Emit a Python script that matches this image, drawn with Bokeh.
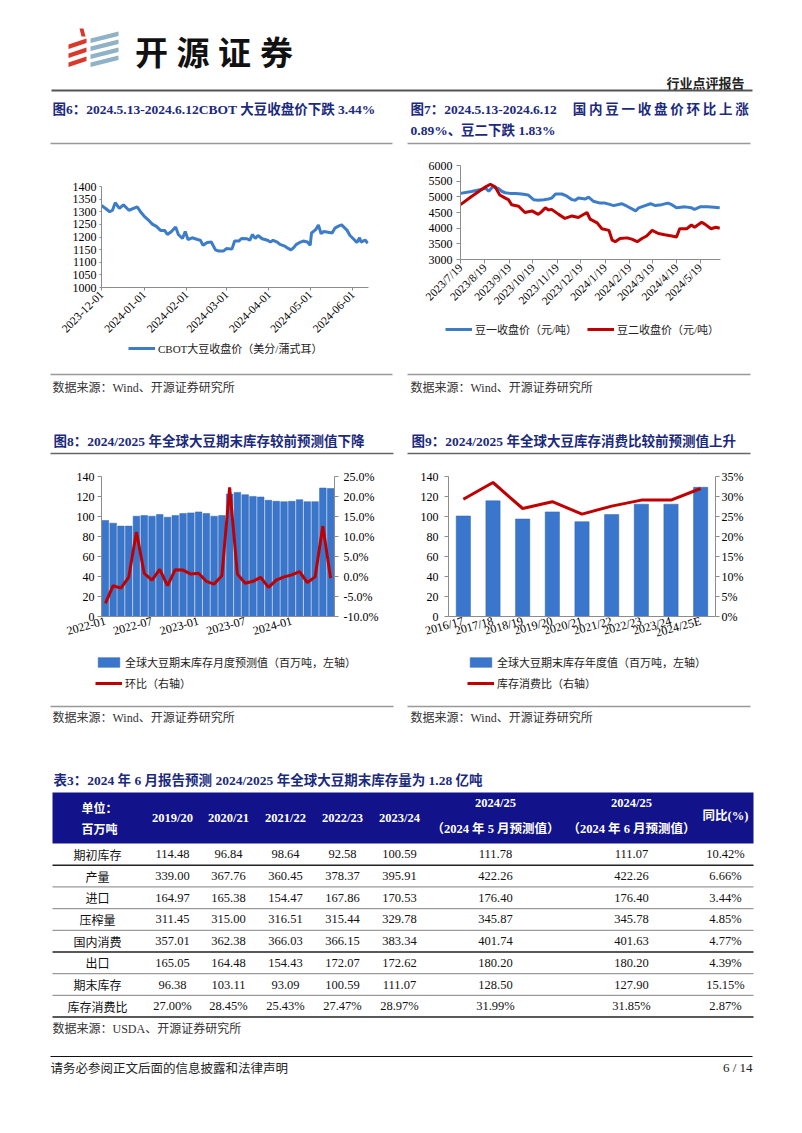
import math
import pandas as pd
from bokeh.plotting import figure
from bokeh.models import (Range1d, FixedTicker, Legend, LegendItem, LinearAxis,
                          PrintfTickFormatter, FactorRange)
from bokeh.layouts import column, row
from bokeh.embed import file_html
from bokeh.resources import INLINE
from bokeh.core.properties import value

# ---------------- data ----------------
# Fig 6: CBOT soybean close (US cents / bushel)
cbot_dates = ["2023-12-01","2023-12-04","2023-12-07","2023-12-09","2023-12-11","2023-12-14","2023-12-17","2023-12-21","2023-12-27","2023-12-30",
              "2024-01-01","2024-01-04","2024-01-07","2024-01-10","2024-01-13","2024-01-16","2024-01-18","2024-01-21","2024-01-24","2024-01-26","2024-01-29","2024-01-31",
              "2024-02-02","2024-02-05","2024-02-09","2024-02-11","2024-02-13","2024-02-16","2024-02-19","2024-02-22","2024-02-24","2024-02-28",
              "2024-03-01","2024-03-05","2024-03-07","2024-03-10","2024-03-12","2024-03-16","2024-03-18","2024-03-20","2024-03-22","2024-03-24","2024-03-27","2024-03-31",
              "2024-04-02","2024-04-04","2024-04-07","2024-04-09","2024-04-12","2024-04-14","2024-04-17","2024-04-19","2024-04-21","2024-04-24","2024-04-26","2024-04-29",
              "2024-05-01","2024-05-02","2024-05-05","2024-05-07","2024-05-09","2024-05-11","2024-05-14","2024-05-17","2024-05-19","2024-05-22","2024-05-24","2024-05-25","2024-05-28","2024-05-30",
              "2024-06-02","2024-06-04","2024-06-06","2024-06-07","2024-06-10","2024-06-12"]
cbot_close = [1325,1313,1300,1306,1336,1313,1327,1306,1319,1296,
              1283,1268,1251,1242,1226,1226,1210,1222,1240,1210,1194,1222,
              1190,1197,1190,1187,1167,1178,1180,1149,1145,1145,
              1154,1152,1184,1184,1194,1193,1187,1210,1194,1206,1193,1187,
              1180,1187,1180,1171,1165,1158,1149,1158,1171,1180,1184,1180,
              1167,1216,1229,1248,1213,1222,1219,1216,1235,1244,1248,1242,1226,1206,
              1190,1178,1197,1180,1188,1175]
cbot_ticks = ["2023-12-01","2024-01-01","2024-02-01","2024-03-01","2024-04-01","2024-05-01","2024-06-01"]

# Fig 7: Dalian soybean No.1 / No.2 close (yuan / ton)
dou1_dates = ["2023-07-19","2023-08-02","2023-08-20","2023-08-24","2023-08-29","2023-09-05","2023-09-10","2023-09-14","2023-09-20","2023-09-27",
              "2023-10-05","2023-10-13","2023-10-20","2023-10-26","2023-11-02","2023-11-08","2023-11-12","2023-11-17","2023-11-25",
              "2023-12-01","2023-12-08","2023-12-12","2023-12-16","2023-12-25","2023-12-29","2024-01-04","2024-01-13","2024-01-19","2024-01-26","2024-01-30",
              "2024-02-09","2024-02-16","2024-02-27","2024-03-02","2024-03-10","2024-03-17","2024-03-23","2024-03-31",
              "2024-04-08","2024-04-13","2024-04-19","2024-04-30","2024-05-08","2024-05-12","2024-05-19","2024-05-29","2024-06-13"]
dou1_close = [5110,5170,5270,5180,5320,5270,5170,5130,5110,5110,
              5090,5060,4910,4890,4910,4930,4960,5090,5090,
              5030,4910,4890,4960,4930,4990,4860,4800,4800,4750,4720,
              4780,4700,4550,4650,4720,4780,4720,4750,
              4800,4750,4650,4680,4650,4600,4680,4680,4650]
dou2_dates = ["2023-07-19","2023-08-02","2023-08-20","2023-08-26","2023-09-01","2023-09-07","2023-09-14","2023-09-18","2023-09-22",
              "2023-10-01","2023-10-09","2023-10-18","2023-10-26","2023-10-30","2023-11-04","2023-11-08","2023-11-12","2023-11-21","2023-11-29",
              "2023-12-08","2023-12-16","2023-12-27","2023-12-31","2024-01-09","2024-01-15","2024-01-24","2024-01-28",
              "2024-02-01","2024-02-07","2024-02-16","2024-02-22","2024-02-29","2024-03-06","2024-03-12","2024-03-19","2024-03-27",
              "2024-04-04","2024-04-13","2024-04-19","2024-04-23","2024-05-02","2024-05-08","2024-05-12","2024-05-21","2024-05-25",
              "2024-06-02","2024-06-08","2024-06-13"]
dou2_close = [4750,5010,5320,5400,5320,5060,4960,4910,4750,
              4700,4500,4550,4440,4520,4650,4580,4600,4440,4310,
              4390,4340,4500,4290,4170,3980,3930,3620,
              3570,3670,3690,3650,3570,3670,3750,3930,3830,
              3790,3750,3720,3980,3980,4100,4030,4190,4130,
              3980,4030,4000]
dou_ticks = ["2023/7/19","2023/8/19","2023/9/19","2023/10/19","2023/11/19","2023/12/19",
             "2024/1/19","2024/2/19","2024/3/19","2024/4/19","2024/5/19"]

# Fig 8: monthly forecasts of world soybean ending stocks (Mt) and m/m change (%)
stock_months = [p.strftime("%Y-%m") for p in pd.period_range("2022-01", periods=30, freq="M")]
stock_monthly = [96.0,93.3,90.4,90.4,100.3,100.9,100.3,101.9,99.3,100.9,102.9,103.6,104.6,102.9,100.3,
                 100.9,122.5,124.1,121.8,120.1,119.5,116.2,115.2,114.8,115.2,116.8,114.8,114.8,128.5,127.9]
stock_mom = [-6.7,-2.3,-2.9,-0.2,11.1,0.8,-0.9,1.8,-2.3,1.7,1.6,0.6,0.8,-1.2,-1.9,
             0.2,22.3,0.6,-1.7,-1.2,-0.2,-2.7,-0.9,-0.1,0.4,1.2,-1.5,-0.1,12.6,-0.4]
stock_month_ticks = ["2022-01","2022-07","2023-01","2023-07","2024-01"]

# Fig 9: annual ending stocks (Mt) and stocks-to-use ratio (%)
seasons = ["2016/17","2017/18","2018/19","2019/20","2020/21","2021/22","2022/23","2023/24","2024/25E"]
stock_annual = [100.5,115.7,97.5,104.6,94.8,101.9,112.3,112.3,129.2]
stock_use_ratio = [29.3,33.5,27.0,28.7,25.6,27.6,29.1,29.1,32.0]

# Table 3
tbl_rows = ["期初库存","产量","进口","压榨量","国内消费","出口","期末库存","库存消费比"]
tbl_years = ["2019/20","2020/21","2021/22","2022/23","2023/24"]
v_1920 = [114.48,339.00,164.97,311.45,357.01,165.05,96.38,27.00]
v_2021 = [96.84,367.76,165.38,315.00,362.38,164.48,103.11,28.45]
v_2122 = [98.64,360.45,154.47,316.51,366.03,154.43,93.09,25.43]
v_2223 = [92.58,378.37,167.86,315.44,366.15,172.07,100.59,27.47]
v_2324 = [100.59,395.91,170.53,329.78,383.34,172.62,111.07,28.97]
v_2425_may = [111.78,422.26,176.40,345.87,401.74,180.20,128.50,31.99]
v_2425_jun = [111.07,422.26,176.40,345.78,401.63,180.20,127.90,31.85]
v_yoy = [10.42,6.66,3.44,4.85,4.77,4.39,15.15,2.87]

# ---------------- styles ----------------
SERIF = "Liberation Serif"
MIX = "Liberation Serif, Noto Sans CJK SC"
CJK = "Noto Sans CJK SC"
NAVY = "#1B2A7E"
BLUE = "#3D7CC9"
BAR = "#3A77CC"
BAR_EDGE = "#2F63B0"
RED = "#C00000"
AXIS = "#8C8C8C"
HEAD_BG = "#12128A"
NAN = [float("nan")]  # legend-only renderers carry no visible data


def no_align(p):
    if "frame_align" in p.properties():
        p.frame_align = False
    return p


def canvas(y_top, y_bottom, x0=0, x1=802):
    p = figure(width=x1 - x0, height=y_bottom - y_top, x_range=Range1d(x0, x1),
               y_range=Range1d(y_bottom, y_top), x_axis_location=None, y_axis_location=None,
               min_border=0, output_backend="svg", toolbar_location=None)
    p.grid.visible = False
    p.outline_line_color = None
    return no_align(p)


def put(p, xs, ys, texts, size, color="#000", font=MIX, align="left", bold=False):
    p.text(x=list(xs), y=list(ys), text=list(texts), text_font=value(font),
           text_font_size=value(f"{size}px"), text_color=color, text_align=align,
           text_baseline="middle", text_font_style="bold" if bold else "normal")


def hline(p, x0s, x1s, ys, color, width):
    p.segment(x0=list(x0s), y0=list(ys), x1=list(x1s), y1=list(ys),
              line_color=color, line_width=width)


def chart(width, height, left, right, top, bottom, **kw):
    p = figure(width=width, height=height, min_border_left=left, min_border_right=right,
               min_border_top=top, min_border_bottom=bottom, output_backend="svg",
               toolbar_location=None, **kw)
    p.grid.visible = False
    p.outline_line_color = None
    return no_align(p)


def style(ax, tick_out=4, standoff=3, ticks=True, size="12px"):
    ax.axis_line_color = AXIS
    ax.major_tick_line_color = AXIS if ticks else None
    ax.minor_tick_line_color = None
    ax.major_tick_out = tick_out
    ax.major_tick_in = 0
    ax.major_label_text_font = SERIF
    ax.major_label_text_font_size = size
    ax.major_label_text_color = "#000"
    ax.major_label_standoff = standoff


def legend(p, items, loc, spacing=5):
    lg = Legend(items=[LegendItem(label=l, renderers=[r]) for l, r in items], location=loc,
                orientation="vertical", glyph_width=27, glyph_height=12, label_height=12,
                label_standoff=3, padding=0, margin=0, spacing=spacing,
                border_line_alpha=0, background_fill_alpha=0,
                label_text_font=MIX, label_text_font_size="11px", label_text_color="#222")
    p.add_layout(lg)


def day_offsets(dates, start):
    t0 = pd.Timestamp(start)
    return [(pd.Timestamp(d) - t0).days for d in dates]

# ---------------- header ----------------
H = canvas(0, 150)
red_xs = [[68, 86, 86, 68], [68, 86, 86, 68], [68, 86, 86, 68], [79, 83, 85, 81]]
red_ys = [[44, 38, 42.5, 48.5], [53, 47, 51.5, 57.5], [62, 56, 60.5, 66.5], [28, 28, 36, 36]]
H.patches(xs=red_xs, ys=red_ys, fill_color="#D9392B", line_color=None)
blue_xs = [[90, 118, 118, 90]] * 4
blue_ys = [[38, 31, 35.5, 42.5], [46, 39, 43.5, 50.5], [54, 47, 51.5, 58.5], [62, 55, 59.5, 66.5]]
H.patches(xs=blue_xs, ys=blue_ys, fill_color="#8FB2C6", line_color=None)
put(H, [151, 192.5, 234, 276], [50] * 4, list("开源证券"), 33, "#111", CJK, "center", True)
put(H, [744], [82], ["行业点评报告"], 13, "#222", CJK, "right", True)
hline(H, [51], [752], [90], "#555", 2)
put(H, [52], [109], ["图6：2024.5.13-2024.6.12CBOT 大豆收盘价下跌 3.44%"], 13.5, NAVY, MIX, "left", True)
put(H, [410], [109], ["图7：2024.5.13-2024.6.12"], 13.5, NAVY, MIX, "left", True)
t7 = list("国内豆一收盘价环比上涨")
put(H, [579 + i * 16.25 for i in range(len(t7))], [109] * len(t7), t7, 13.5, NAVY, MIX, "center", True)
put(H, [410], [129.5], ["0.89%、豆二下跌 1.83%"], 13.5, NAVY, MIX, "left", True)
hline(H, [50, 407], [392, 750], [143, 143], "#999", 1.5)

# ---------------- Fig 6 ----------------
x6 = day_offsets(cbot_dates, cbot_ticks[0])
tk6 = day_offsets(cbot_ticks, cbot_ticks[0])
p6 = chart(401, 189, 101, 33, 36, 50, x_range=Range1d(0, 194.5), y_range=Range1d(1000, 1400))
p6.line(x6, cbot_close, line_width=3, line_color=BLUE)
style(p6.xaxis[0], 3, 2, size="11.5px")
style(p6.yaxis[0], 2, 3)
p6.xaxis.ticker = FixedTicker(ticks=tk6)
p6.xaxis.major_label_overrides = dict(zip(tk6, cbot_ticks))
p6.xaxis.major_label_orientation = math.pi / 4
p6.yaxis.ticker = FixedTicker(ticks=list(range(1000, 1401, 50)))

L6 = canvas(339, 360, 0, 401)
l6 = L6.line(x=NAN, y=NAN, line_width=3, line_color=BLUE)
legend(L6, [("CBOT大豆收盘价（美分/蒲式耳）", l6)], (128, 4))

# ---------------- Fig 7 ----------------
x7a = day_offsets(dou1_dates, dou_ticks[0])
x7b = day_offsets(dou2_dates, dou_ticks[0])
tk7 = day_offsets(dou_ticks, dou_ticks[0])
p7 = chart(401, 164, 59, 82, 15, 52, x_range=Range1d(0, 331), y_range=Range1d(3000, 6000))
p7.line(x7a, dou1_close, line_width=3, line_color=BLUE)
p7.line(x7b, dou2_close, line_width=3, line_color=RED)
style(p7.xaxis[0], 4, 2, size="11.5px")
style(p7.yaxis[0], 4, 4)
p7.xaxis.ticker = FixedTicker(ticks=tk7)
p7.xaxis.major_label_overrides = dict(zip(tk7, dou_ticks))
p7.xaxis.major_label_orientation = math.pi / 4
p7.yaxis.ticker = FixedTicker(ticks=list(range(3000, 6001, 500)))

L7 = canvas(314, 360, 401, 802)
l7a = L7.line(x=NAN, y=NAN, line_width=3, line_color=BLUE)
l7b = L7.line(x=NAN, y=NAN, line_width=3, line_color=RED)
legend(L7, [("豆一收盘价（元/吨）", l7a)], (44, 23))
legend(L7, [("豆二收盘价（元/吨）", l7b)], (186, 23))

# ---------------- middle block ----------------
S1 = canvas(360, 460)
hline(S1, [50, 407], [392, 750], [374, 374], "#999", 1.5)
put(S1, [52, 410], [387, 387], ["数据来源：Wind、开源证券研究所"] * 2, 12, "#333", MIX)
put(S1, [53], [441], ["图8：2024/2025 年全球大豆期末库存较前预测值下降"], 13.5, NAVY, MIX, "left", True)
put(S1, [411], [441], ["图9：2024/2025 年全球大豆库存消费比较前预测值上升"], 13.5, NAVY, MIX, "left", True)
hline(S1, [50, 407], [393, 750], [453, 453], "#666", 1.5)

# ---------------- Fig 8 ----------------
idx8 = list(range(len(stock_months)))
tk8 = [stock_months.index(m) for m in stock_month_ticks]
p8 = chart(401, 190, 101, 67, 16, 34, x_range=Range1d(-0.5, len(idx8) - 0.5), y_range=Range1d(0, 140))
p8.extra_y_ranges = {"pct": Range1d(-10, 25)}
p8.vbar(x=idx8, top=stock_monthly, width=0.85, fill_color=BAR, line_color=BAR_EDGE, line_width=0.5)
p8.line(idx8, stock_mom, y_range_name="pct", line_width=3, line_color=RED)
ax8r = LinearAxis(y_range_name="pct", ticker=FixedTicker(ticks=list(range(-10, 26, 5))),
                  formatter=PrintfTickFormatter(format="%.1f%%"))
p8.add_layout(ax8r, "right")
style(p8.xaxis[0], 0, 4, ticks=False)
style(p8.yaxis[0], 4, 3)
style(ax8r, 4, 5)
p8.xaxis.ticker = FixedTicker(ticks=tk8)
p8.xaxis.major_label_overrides = dict(zip(tk8, stock_month_ticks))
p8.xaxis.major_label_orientation = 0.27
p8.yaxis[0].ticker = FixedTicker(ticks=list(range(0, 141, 20)))

# ---------------- Fig 9 ----------------
p9 = chart(401, 190, 47, 87, 16, 34, x_range=FactorRange(factors=seasons), y_range=Range1d(0, 140))
p9.extra_y_ranges = {"pct": Range1d(0, 35)}
p9.vbar(x=seasons, top=stock_annual, width=0.48, fill_color=BAR, line_color=BAR_EDGE, line_width=0.5)
p9.line(seasons, stock_use_ratio, y_range_name="pct", line_width=3, line_color=RED)
ax9r = LinearAxis(y_range_name="pct", ticker=FixedTicker(ticks=list(range(0, 36, 5))),
                  formatter=PrintfTickFormatter(format="%d%%"))
p9.add_layout(ax9r, "right")
style(p9.xaxis[0], 0, 4, ticks=False)
style(p9.yaxis[0], 4, 6)
style(ax9r, 4, 2)
p9.xaxis.major_label_orientation = 0.27
p9.yaxis[0].ticker = FixedTicker(ticks=list(range(0, 141, 20)))

# legends of fig 8 / fig 9
L89 = canvas(650, 700)
lb8 = L89.vbar(x=NAN, top=NAN, width=1, fill_color=BAR, line_color=BAR_EDGE, line_width=0.5)
ll8 = L89.line(x=NAN, y=NAN, line_width=3, line_color=RED)
legend(L89, [("全球大豆期末库存月度预测值（百万吨，左轴）", lb8), ("环比（右轴）", ll8)], (95, 9))
legend(L89, [("全球大豆期末库存年度值（百万吨，左轴）", lb8), ("库存消费比（右轴）", ll8)], (467, 9))

# ---------------- table block ----------------
T = canvas(700, 1133)
hline(T, [50, 407], [393, 750], [706, 706], "#999", 1.5)
put(T, [52, 410], [717, 717], ["数据来源：Wind、开源证券研究所"] * 2, 12, "#333", MIX)
put(T, [53], [780], ["表3：2024 年 6 月报告预测 2024/2025 年全球大豆期末库存量为 1.28 亿吨"], 13.5, NAVY, MIX, "left", True)

TL, TR, HT, HB, PITCH = 52, 753, 792, 843, 21.7
T.quad(left=[TL], right=[TR], top=[HT], bottom=[HB], fill_color=HEAD_BG, line_color=None)
col_x = [172, 228, 285, 342, 399, 495, 631, 725]
put(T, [81, 81], [807, 828], ["单位：", "百万吨"], 12, "#fff", CJK, "left", True)
put(T, col_x[:5], [817.5] * 5, tbl_years, 12.5, "#fff", SERIF, "center", True)
put(T, col_x[5:7] * 2, [802, 802, 828, 828],
    ["2024/25", "2024/25", "（2024 年 5 月预测值）", "（2024 年 6 月预测值）"], 12.5, "#fff", MIX, "center", True)
put(T, [col_x[7]], [815], ["同比(%)"], 12.5, "#fff", MIX, "center", True)

row_y = [HB + PITCH * (i + 0.5) for i in range(len(tbl_rows))]
put(T, [97] * len(tbl_rows), row_y, tbl_rows, 12, "#111", CJK, "center")
cols = [v_1920, v_2021, v_2122, v_2223, v_2324, v_2425_may, v_2425_jun]
for cx, vals in zip(col_x[:7], cols):
    labels = [f"{v:.2f}" for v in vals[:-1]] + [f"{vals[-1]:.2f}%"]
    put(T, [cx] * len(labels), row_y, labels, 12.5, "#111", SERIF, "center")
put(T, [col_x[7]] * len(v_yoy), row_y, [f"{v:.2f}%" for v in v_yoy], 12.5, "#111", SERIF, "center")

line_y = [HB + PITCH * (i + 1) for i in range(len(tbl_rows))]
dark = [0, 4, 7]
hline(T, [TL] * len(dark), [TR] * len(dark), [line_y[i] for i in dark], "#222", 1.5)
light = [i for i in range(len(tbl_rows)) if i not in dark]
hline(T, [TL] * len(light), [TR] * len(light), [line_y[i] for i in light], "#9A9A9A", 1.2)
put(T, [52], [1028], ["数据来源：USDA、开源证券研究所"], 12, "#333", MIX)

hline(T, [50], [752], [1056], "#111", 1.2)
put(T, [50], [1067], ["请务必参阅正文后面的信息披露和法律声明"], 12.5, "#222", CJK)
put(T, [752], [1067], ["6 / 14"], 13, "#222", SERIF, "right")

page = column(H,
              row(column(p6, L6), column(p7, L7)),
              S1,
              row(p8, p9),
              L89,
              T)
open("out.html", "w").write(file_html(page, INLINE, title="行业点评报告"))
